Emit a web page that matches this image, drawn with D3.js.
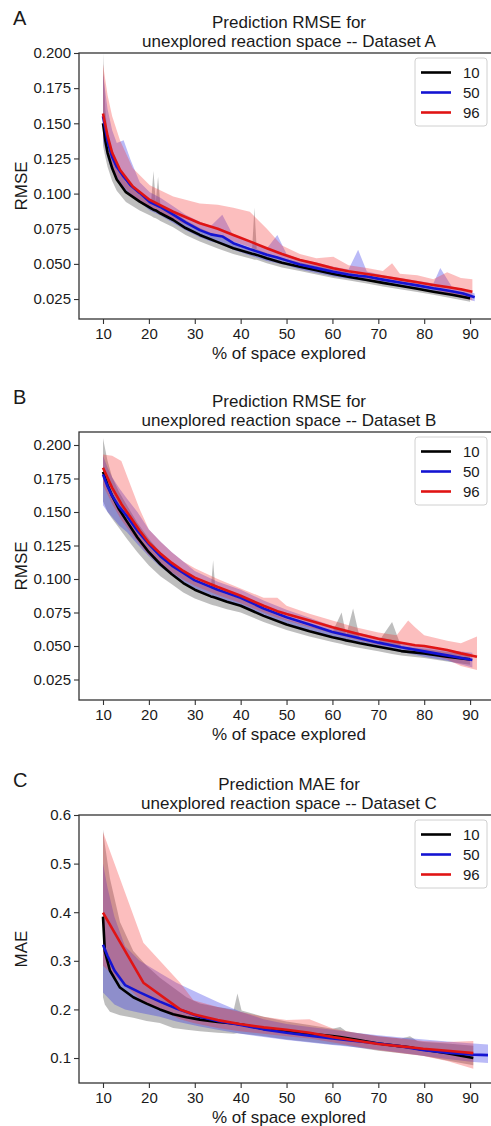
<!DOCTYPE html>
<html>
<head>
<meta charset="utf-8">
<script src="https://cdn.jsdelivr.net/npm/d3@7"></script>
<style>
  body { margin: 0; background: #fff; }
  svg { display: block; }
  text { font-family: "Liberation Sans", Arial, sans-serif; fill: #1a1a1a; }
</style>
</head>
<body>
<div id="chart"></div>
<script>
// series labels (batch sizes)
const seriesNames = ["10", "50", "96"];
const xTicks = [10, 20, 30, 40, 50, 60, 70, 80, 90];
const yTicksAB = [0.025, 0.050, 0.075, 0.100, 0.125, 0.150, 0.175, 0.200];
const yTicksC = [0.1, 0.2, 0.3, 0.4, 0.5, 0.6];

// rows: [% explored, mean, band low, band high]
// Dataset A
const a10 = [
  [10, .150, .134, .200], [10.5, .138, .126, .160], [11, .129, .119, .142], [12, .118, .109, .128],
  [13, .110, .102, .118], [15, .101, .094, .108], [18, .0943, .088, .1005], [20.5, .0895, .084, .095],
  [21, .0885, .083, .116], [21.5, .088, .0825, .094], [22, .087, .0815, .112], [22.5, .086, .0805, .092],
  [25.3, .0812, .076, .087], [28, .0755, .0705, .081], [31.1, .0706, .066, .0755], [35, .0655, .061, .070],
  [38.4, .0611, .057, .065], [42.5, .0572, .0535, .061], [43, .0568, .053, .090], [43.5, .0564, .053, .0605],
  [45.7, .054, .0505, .0575], [49, .0508, .0475, .054], [52.9, .048, .045, .051], [56.5, .0455, .0425, .0485],
  [60.2, .0428, .040, .046], [64, .0405, .038, .0435], [67.5, .0386, .036, .0415], [71, .0365, .034, .0395],
  [74.7, .0345, .032, .0375], [78.5, .0323, .030, .0352], [82, .0302, .028, .033], [86, .028, .0255, .031],
  [90, .0255, .023, .0285]
];
const a50 = [
  [10, .155, .138, .185], [11, .137, .125, .160], [12, .126, .116, .145], [13, .119, .110, .136],
  [14.5, .112, .104, .138], [16, .106, .099, .124], [18, .1005, .094, .108], [20.2, .094, .088, .101],
  [22.5, .0905, .0845, .097], [25.3, .085, .079, .091], [28, .0795, .074, .085], [31.1, .074, .069, .080],
  [33.5, .071, .066, .077], [36, .0695, .064, .085], [38.4, .0647, .060, .070], [42, .0605, .056, .0655],
  [45.7, .0565, .052, .061], [48, .0545, .0505, .0706], [50, .0525, .049, .057], [52.9, .0495, .046, .0535],
  [56.5, .047, .0435, .051], [60.2, .0444, .041, .048], [63.5, .0425, .0395, .046], [65.6, .0415, .0385, .060],
  [67.5, .041, .038, .0445], [71, .0388, .036, .042], [74.7, .0367, .034, .040], [78.5, .0347, .032, .038],
  [82, .0327, .030, .036], [83.5, .032, .029, .047], [86, .0305, .0275, .034], [88.5, .029, .026, .032],
  [91, .0262, .0235, .029]
];
const a96 = [
  [10, .157, .140, .192], [11, .141, .130, .170], [12, .129, .119, .155], [13.7, .117, .108, .138],
  [16.5, .105, .098, .118], [20.2, .0955, .090, .106], [25.3, .0871, .082, .098], [31.1, .0789, .074, .093],
  [35, .075, .070, .092], [38.4, .0706, .066, .090], [42, .066, .062, .087], [45.7, .0611, .057, .075],
  [49, .057, .053, .063], [52.9, .0528, .049, .057], [56.5, .050, .046, .054], [60.2, .0469, .0435, .055],
  [63.5, .0448, .0415, .049], [67.5, .0428, .0395, .047], [71, .041, .038, .045], [73, .040, .037, .0505],
  [74.7, .039, .036, .043], [78.5, .037, .034, .042], [82, .035, .032, .039], [85, .0335, .029, .044],
  [88, .032, .026, .040], [90.5, .0302, .024, .039]
];

// Dataset B
const b10 = [
  [10, .180, .158, .205], [11, .170, .150, .188], [12, .162, .145, .176], [13.5, .152, .138, .165],
  [15.2, .143, .130, .155], [17.5, .131, .120, .142], [20, .120, .110, .130], [22.5, .111, .102, .120],
  [25, .1035, .096, .111], [27.5, .097, .090, .104], [30, .092, .0855, .098], [33.5, .087, .081, .093],
  [34, .0865, .0805, .114], [34.5, .086, .080, .092], [37, .083, .0775, .0885], [40, .080, .075, .0855],
  [45, .0725, .068, .077], [50, .066, .062, .070], [55, .061, .057, .065], [60, .0565, .053, .0605],
  [62, .055, .0515, .075], [63, .0542, .0505, .058], [64.5, .0532, .0495, .078], [66, .052, .0485, .0555],
  [70, .0495, .046, .053], [73, .0475, .044, .068], [75, .0462, .043, .0495], [80, .0445, .041, .048],
  [85, .042, .0385, .0455], [90, .040, .036, .044]
];
const b50 = [
  [10, .178, .155, .192], [11, .169, .150, .183], [12, .162, .146, .176], [13.5, .154, .140, .168],
  [15.2, .147, .135, .160], [17.5, .136, .126, .150], [20, .126, .117, .137], [22.5, .117, .109, .128],
  [25, .110, .103, .120], [27.5, .1045, .098, .113], [30, .099, .093, .106], [35, .092, .086, .098],
  [40, .086, .080, .092], [45, .078, .073, .084], [50, .0715, .067, .077], [55, .066, .0615, .071],
  [60, .0605, .0565, .065], [65, .0565, .0525, .0605], [70, .0525, .049, .0565], [75, .049, .0455, .053],
  [80, .046, .042, .050], [85, .043, .039, .047], [90.5, .0395, .034, .045]
];
const b96 = [
  [10, .183, .170, .193], [12, .168, .156, .192], [14, .156, .144, .188], [16, .146, .135, .170],
  [18, .136, .126, .152], [20, .127, .118, .137], [22.5, .119, .111, .128], [25, .112, .105, .120],
  [27.5, .106, .0995, .113], [30, .101, .095, .108], [35, .094, .088, .100], [40, .0875, .082, .093],
  [45, .080, .075, .086], [48, .076, .071, .086], [50, .0738, .069, .080], [55, .069, .064, .074],
  [60, .064, .0595, .069], [65, .0595, .055, .064], [70, .0554, .051, .060], [74, .053, .049, .058],
  [76.5, .0515, .047, .069], [78, .0505, .046, .064], [80, .050, .045, .058], [85, .047, .040, .054],
  [88, .0445, .035, .052], [91.5, .042, .032, .057]
];

// Dataset C
const c10 = [
  [10, .391, .225, .570], [10.4, .320, .210, .540], [11.5, .280, .195, .470], [13.7, .245, .188, .380],
  [16.6, .225, .183, .320], [19.5, .212, .176, .290], [22.4, .200, .172, .265], [25.3, .190, .162, .245],
  [28.2, .184, .158, .225], [31.1, .179, .155, .212], [35, .174, .152, .205], [38.5, .171, .150, .200],
  [39.3, .170, .151, .233], [40.2, .169, .150, .198], [45, .160, .145, .185], [50, .154, .138, .175],
  [55, .150, .133, .168], [60, .145, .128, .160], [61.7, .143, .127, .164], [63, .141, .125, .155],
  [65, .138, .122, .152], [70, .130, .115, .145], [75, .124, .110, .140], [76.9, .122, .108, .145],
  [78.5, .119, .106, .135], [80, .117, .104, .133], [85, .110, .095, .130], [90.7, .100, .085, .125]
];
const c50 = [
  [10, .333, .235, .500], [11, .310, .225, .450], [12.5, .280, .210, .390], [14.8, .250, .200, .330],
  [18, .235, .193, .300], [22.4, .216, .185, .275], [26, .202, .175, .255], [31.1, .185, .165, .232],
  [35, .176, .158, .215], [40, .168, .150, .195], [45, .159, .143, .180], [50, .152, .137, .170],
  [55, .146, .132, .164], [60, .140, .127, .158], [65, .135, .122, .152], [70, .130, .117, .147],
  [75, .124, .111, .142], [80, .116, .104, .138], [85, .111, .098, .134], [90.7, .107, .092, .130],
  [93.9, .106, .090, .128]
];
const c96 = [
  [10, .399, .290, .565], [18.8, .255, .215, .337], [26.8, .200, .180, .255], [29.7, .190, .172, .219],
  [35, .178, .162, .205], [39.8, .170, .155, .195], [45, .163, .150, .185], [50, .158, .145, .178],
  [55, .152, .140, .180], [60.2, .143, .132, .160], [65, .136, .124, .152], [70, .129, .116, .145],
  [75, .124, .110, .140], [79.8, .119, .104, .135], [85, .115, .094, .133], [90.7, .110, .078, .135]
];

// styling
const lineColors = ["#000000", "#1414d2", "#e01414"];
const bandColors = ["rgba(120,120,120,0.48)", "rgba(40,40,230,0.32)", "rgba(245,40,40,0.30)"];

const W = 491, H = 1126;
const left = 79, right = 499;

const panels = [
  { letter: "A", title: ["Prediction RMSE for", "unexplored reaction space -- Dataset A"], ylabel: "RMSE",
    top: 53, bottom: 319, yDomain: [0.0108, 0.2], yTicks: yTicksAB, fmt: ".3f", series: [a10, a50, a96] },
  { letter: "B", title: ["Prediction RMSE for", "unexplored reaction space -- Dataset B"], ylabel: "RMSE",
    top: 432, bottom: 700, yDomain: [0.0097, 0.2097], yTicks: yTicksAB, fmt: ".3f", series: [b10, b50, b96] },
  { letter: "C", title: ["Prediction MAE for", "unexplored reaction space -- Dataset C"], ylabel: "MAE",
    top: 815, bottom: 1083, yDomain: [0.0486, 0.6], yTicks: yTicksC, fmt: ".1f", series: [c10, c50, c96] }
];

const svg = d3.select("#chart").append("svg")
  .attr("width", W).attr("height", H)
  .attr("viewBox", `0 0 ${W} ${H}`);
svg.append("rect").attr("width", W).attr("height", H).attr("fill", "#fff");

const x = d3.scaleLinear().domain([4.77, 96.3]).range([left, right]);

panels.forEach((p, pi) => {
  const y = d3.scaleLinear().domain(p.yDomain).range([p.bottom, p.top]);
  const g = svg.append("g");
  const clipId = "clip" + pi;
  svg.append("clipPath").attr("id", clipId).append("rect")
    .attr("x", left).attr("y", p.top).attr("width", right - left).attr("height", p.bottom - p.top);

  const plot = g.append("g").attr("clip-path", `url(#${clipId})`);

  const area = d3.area().x(d => x(d[0])).y0(d => y(d[2])).y1(d => y(d[3]));
  const line = d3.line().x(d => x(d[0])).y(d => y(d[1]));

  // bands first, then lines
  p.series.forEach((s, i) => {
    plot.append("path").attr("d", area(s)).attr("fill", bandColors[i]).attr("stroke", "none");
  });
  p.series.forEach((s, i) => {
    plot.append("path").attr("d", line(s)).attr("fill", "none")
      .attr("stroke", lineColors[i]).attr("stroke-width", 2.6)
      .attr("stroke-linejoin", "round");
  });

  // axes
  const xAxis = d3.axisBottom(x).tickValues(xTicks).tickSize(5).tickPadding(4);
  const yAxis = d3.axisLeft(y).tickValues(p.yTicks).tickSize(5).tickPadding(3).tickFormat(d3.format(p.fmt));

  const gx = g.append("g").attr("transform", `translate(0,${p.bottom})`).call(xAxis);
  const gy = g.append("g").attr("transform", `translate(${left},0)`).call(yAxis);
  [gx, gy].forEach(ax => {
    ax.select(".domain").remove();
    ax.selectAll(".tick line").attr("stroke", "#333").attr("stroke-width", 1.1);
    ax.selectAll(".tick text").attr("font-size", 15).attr("fill", "#1a1a1a");
  });

  // frame (right side runs off the page)
  g.append("rect").attr("x", left).attr("y", p.top)
    .attr("width", right - left).attr("height", p.bottom - p.top)
    .attr("fill", "none").attr("stroke", "#333").attr("stroke-width", 1.3);

  // titles and labels
  const cx = (left + right) / 2;
  g.append("text").attr("x", cx).attr("y", p.top - 25).attr("text-anchor", "middle")
    .attr("font-size", 17).text(p.title[0]);
  g.append("text").attr("x", cx).attr("y", p.top - 6).attr("text-anchor", "middle")
    .attr("font-size", 17).text(p.title[1]);
  g.append("text").attr("x", 13).attr("y", p.top - 28).attr("font-size", 20)
    .attr("fill", "#333").text(p.letter);
  g.append("text").attr("x", cx).attr("y", p.bottom + 40).attr("text-anchor", "middle")
    .attr("font-size", 17).text("% of space explored");
  g.append("text").attr("transform", `translate(27,${(p.top + p.bottom) / 2}) rotate(-90)`)
    .attr("text-anchor", "middle").attr("font-size", 17).text(p.ylabel);

  // legend
  const lg = g.append("g").attr("transform", `translate(415,${p.top + 5})`);
  lg.append("rect").attr("x", 0).attr("y", 0).attr("width", 72).attr("height", 68)
    .attr("rx", 3).attr("fill", "rgba(255,255,255,0.85)").attr("stroke", "#d0d0d0");
  seriesNames.forEach((name, i) => {
    const ly = 14.5 + i * 20;
    lg.append("line").attr("x1", 6).attr("x2", 36).attr("y1", ly).attr("y2", ly)
      .attr("stroke", lineColors[i]).attr("stroke-width", 2.6);
    lg.append("text").attr("x", 48).attr("y", ly).attr("dy", "0.35em")
      .attr("font-size", 15).text(name);
  });
});
</script>
</body>
</html>
